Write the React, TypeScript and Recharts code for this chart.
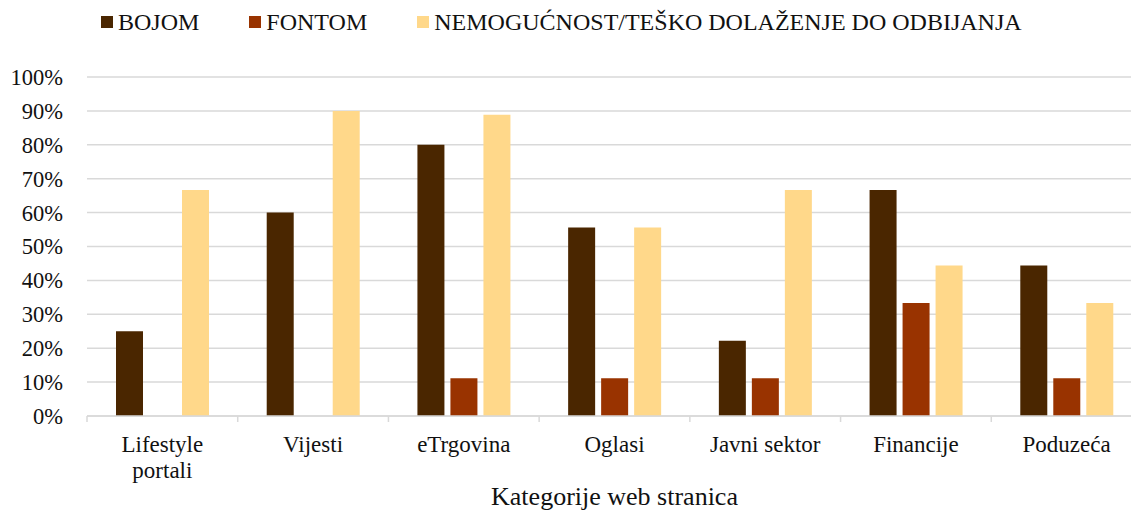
import React from "react";
import { BarChart, Bar, XAxis, YAxis, CartesianGrid, Legend, Label } from "recharts";

// ─── Data ─────────────────────────────────────────────────────────────────────

const categories = ["Lifestyle portali", "Vijesti", "eTrgovina", "Oglasi", "Javni sektor", "Financije", "Poduzeća"];
const bojom = [25, 60, 80, 55.6, 22.2, 66.7, 44.4];
const fontom = [0, 0, 11.1, 11.1, 11.1, 33.3, 11.1];
const nemogucnost = [66.7, 90, 88.9, 55.6, 66.7, 44.4, 33.3];
const yTicks = [0, 10, 20, 30, 40, 50, 60, 70, 80, 90, 100];

const seriesNames = ["BOJOM", "FONTOM", "NEMOGUĆNOST/TEŠKO DOLAŽENJE DO ODBIJANJA"];
const seriesColors = ["#4A2600", "#993300", "#FFD88A"];

const data = categories.map((c, i) => ({
  name: c,
  bojom: bojom[i],
  fontom: fontom[i],
  nemogucnost: nemogucnost[i],
}));

// ─── Layout ───────────────────────────────────────────────────────────────────

const CHART_W = 1150;
const CHART_H = 520;
const Y_AXIS_W = 87;
const MARGIN = { top: 49, right: 8, left: 0, bottom: 4 };
const PLOT_W = CHART_W - Y_AXIS_W - MARGIN.left - MARGIN.right;
const FONT = "'Liberation Serif', 'Times New Roman', serif";
const GRID = "#d9d9d9";
const TEXT = "#111";

// long labels wrap onto two lines, like the band is too narrow for them
function wrapLabel(label: string): string[] {
  if (label.length <= 14) return [label];
  const words = label.split(" ");
  const half = Math.ceil(words.length / 2);
  return [words.slice(0, half).join(" "), words.slice(half).join(" ")];
}

// ─── Custom tick (category label + boundary tick marks) ──────────────────────

// eslint-disable-next-line @typescript-eslint/no-explicit-any
function CategoryTick(props: any) {
  const { x, y, payload, index } = props;
  const step = PLOT_W / categories.length;
  const lines = wrapLabel(String(payload.value));
  return (
    <g>
      <line x1={x - step / 2} x2={x - step / 2} y1={y} y2={y + 6} stroke={GRID} strokeWidth={1.5} />
      {index === categories.length - 1 && (
        <line x1={x + step / 2} x2={x + step / 2} y1={y} y2={y + 6} stroke={GRID} strokeWidth={1.5} />
      )}
      <text x={x} y={y + 36} textAnchor="middle" fill={TEXT} style={{ fontSize: 23, fontFamily: FONT }}>
        {lines.map((l, i) => (
          <tspan key={i} x={x} dy={i === 0 ? 0 : 26}>
            {l}
          </tspan>
        ))}
      </text>
    </g>
  );
}

// ─── Legend ───────────────────────────────────────────────────────────────────

// eslint-disable-next-line @typescript-eslint/no-explicit-any
function LegendContent(props: any) {
  const items = props.payload ?? [];
  return (
    <div
      style={{
        display: "flex",
        alignItems: "center",
        gap: 50,
        paddingLeft: 101,
        height: 28,
        fontFamily: FONT,
        fontSize: 24,
        color: TEXT,
        whiteSpace: "nowrap",
      }}
    >
      {/* eslint-disable-next-line @typescript-eslint/no-explicit-any */}
      {items.map((it: any) => (
        <div key={it.value} style={{ display: "flex", alignItems: "center" }}>
          <span style={{ width: 12, height: 12, background: it.color, marginRight: 5, display: "inline-block" }} />
          {it.value}
        </div>
      ))}
    </div>
  );
}

// ─── Component ────────────────────────────────────────────────────────────────

export default function App() {
  return (
    <div
      style={{
        position: "absolute",
        left: 0,
        top: 0,
        width: 1131,
        height: 511,
        overflow: "hidden",
        background: "#fff",
      }}
    >
      <BarChart
        width={CHART_W}
        height={CHART_H}
        data={data}
        margin={MARGIN}
        barSize={27}
        barGap={6}
      >
        <CartesianGrid vertical={false} stroke={GRID} strokeWidth={1.5} />
        <XAxis
          dataKey="name"
          interval={0}
          height={100}
          axisLine={{ stroke: GRID, strokeWidth: 1.5 }}
          tickLine={false}
          tickSize={0}
          tickMargin={0}
          tick={<CategoryTick />}
        >
          <Label
            value="Kategorije web stranica"
            position="insideBottom"
            offset={11}
            style={{ fontSize: 26, fontFamily: FONT, fill: TEXT }}
          />
        </XAxis>
        <YAxis
          width={Y_AXIS_W}
          domain={[0, 100]}
          ticks={yTicks}
          interval={0}
          axisLine={false}
          tickLine={false}
          tickSize={0}
          tickMargin={24}
          tickFormatter={(v: number) => `${v}%`}
          tick={{ fill: TEXT, fontSize: 22.5, fontFamily: FONT }}
        />
        <Legend
          verticalAlign="top"
          align="left"
          content={<LegendContent />}
          wrapperStyle={{ top: 8, left: 0, width: CHART_W }}
        />
        <Bar dataKey="bojom" name={seriesNames[0]} fill={seriesColors[0]} isAnimationActive={false} />
        <Bar dataKey="fontom" name={seriesNames[1]} fill={seriesColors[1]} isAnimationActive={false} />
        <Bar dataKey="nemogucnost" name={seriesNames[2]} fill={seriesColors[2]} isAnimationActive={false} />
      </BarChart>
    </div>
  );
}
